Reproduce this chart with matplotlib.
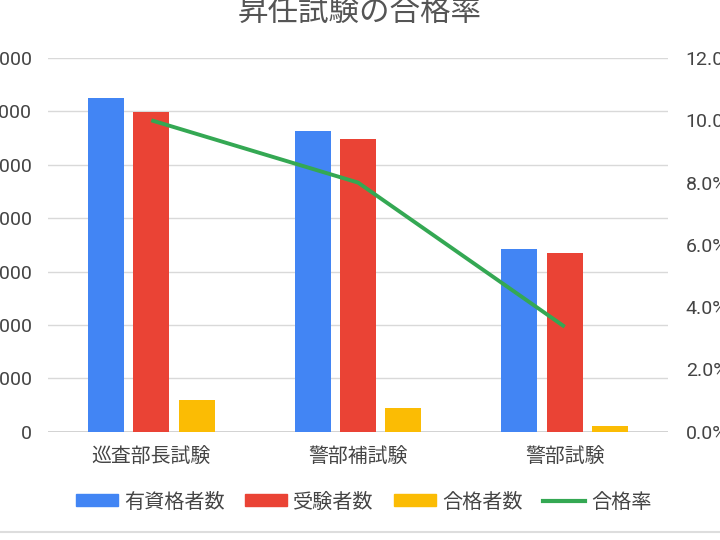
import matplotlib
matplotlib.use("Agg")
import matplotlib.pyplot as plt
import numpy as np
from matplotlib.patches import Patch
from matplotlib.lines import Line2D

categories = ["巡査部長試験", "警部補試験", "警部試験"]
qualified = [6250, 5630, 3420]      # 有資格者数
examinees = [5990, 5475, 3346]      # 受験者数
passed = [600, 438, 115]            # 合格者数
pass_rate = [0.100, 0.080, 0.0337]  # 合格率
left_ticks = [0, 1000, 2000, 3000, 4000, 5000, 6000, 7000]
right_ticks = [0, 0.02, 0.04, 0.06, 0.08, 0.10, 0.12]

FONT = ["Roboto", "Noto Sans CJK JP", "DejaVu Sans"]
plt.rcParams["font.family"] = FONT
TXT = "#444444"

fig = plt.figure(figsize=(7.2, 5.4), dpi=100)
W, H = 720, 540
ax = fig.add_axes([48 / W, (H - 431.7) / H, (668 - 48) / W, (431.7 - 58) / H])
ax2 = ax.twinx()

x = np.arange(len(categories))
bw = 0.174
off = 0.22
c_blue, c_red, c_yel, c_grn = "#4285f4", "#ea4335", "#fbbc04", "#34a853"
ax.bar(x - off, qualified, bw, color=c_blue, zorder=3)
ax.bar(x, examinees, bw, color=c_red, zorder=3)
ax.bar(x + off, passed, bw, color=c_yel, zorder=3)
ax2.plot(x, pass_rate, color=c_grn, lw=2.8, zorder=4, solid_capstyle="butt")

ax.set_xlim(-0.5, len(categories) - 0.5)
ax.set_ylim(0, 7000)
ax2.set_ylim(0, 0.12)
ax.set_yticks(left_ticks)
ax.set_yticklabels([str(v) for v in left_ticks])
ax2.set_yticks(right_ticks)
ax2.set_yticklabels([f"{v*100:.1f}%" for v in right_ticks])
ax.set_xticks(x)
ax.set_xticklabels(categories)

for a in (ax, ax2):
    for s in a.spines.values():
        s.set_visible(False)
ax.tick_params(axis="y", length=0, pad=11.5, labelsize=14, labelcolor=TXT)
ax2.tick_params(axis="y", length=0, pad=12.8, labelsize=14, labelcolor=TXT)
ax.tick_params(axis="x", length=0, pad=11, labelsize=14.3, labelcolor=TXT)
ax.grid(axis="y", color="#d9d9d9", lw=1, zorder=0)
ax.axhline(0, color="#cccccc", lw=1.2, zorder=2)
ax.set_axisbelow(True)

fig.text(0.5, (H - 12) / H, "昇任試験の合格率", ha="center", va="center",
         fontsize=22, color="#555555")

handles = [Patch(color=c_blue), Patch(color=c_red), Patch(color=c_yel),
           Line2D([0], [0], color=c_grn, lw=3)]
labels = ["有資格者数", "受験者数", "合格者数", "合格率"]
fig.legend(handles, labels, loc="center", bbox_to_anchor=(363.5 / W, (H - 502) / H),
           ncol=4, frameon=False, fontsize=14.5, labelcolor=TXT,
           handlelength=2.1, handleheight=0.55, handletextpad=0.3,
           columnspacing=1.0)

fig.add_artist(Line2D([0, 1], [(H - 531.7) / H] * 2, transform=fig.transFigure,
                      color="#dddddd", lw=1.5))

fig.savefig("out.png", dpi=100)
